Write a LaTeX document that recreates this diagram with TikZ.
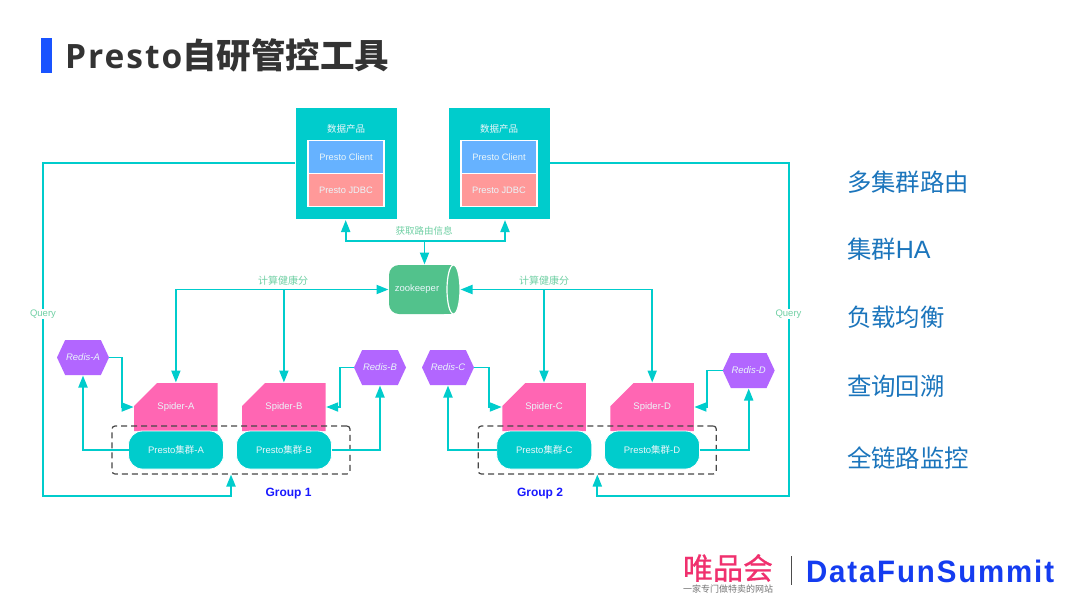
\documentclass[tikz,border=0pt]{standalone}
\usepackage{fontspec}
\setmainfont{Liberation Sans}
\newfontfamily\cjk{Noto Sans CJK SC}
\newfontfamily\cjkm[FakeBold=0.6]{Noto Sans CJK SC}
\newfontfamily\titlefont[LetterSpace=6]{Open Sans}
\newfontfamily\logofont[FakeStretch=0.95,LetterSpace=6]{Liberation Sans}
\usetikzlibrary{shapes.geometric,shapes.misc,shapes.symbols,arrows.meta}
\definecolor{teal}{HTML}{00CCCC}
\definecolor{pinkbox}{HTML}{FF66B3}
\definecolor{bluebox}{HTML}{66B2FF}
\definecolor{redbox}{HTML}{FF9999}
\definecolor{purplebox}{HTML}{B266FF}
\definecolor{zkgreen}{HTML}{52C28C}
\definecolor{lblgreen}{HTML}{70D0A4}
\definecolor{nodetxt}{HTML}{EAF6FA}
\definecolor{sidetxt}{HTML}{1B75BC}
\newcommand{\fsz}[1]{\fontsize{#1}{#1}\selectfont}
\tikzset{
  every node/.style={inner sep=0pt,outer sep=0pt,align=center},
  conn/.style={draw=teal,line width=1.8pt},
  tip/.style={-{Triangle[length=12pt,width=9pt]},shorten >=0.5pt},
  biTip/.style={{Triangle[length=12pt,width=9pt]}-{Triangle[length=12pt,width=9pt]},shorten >=0.5pt,shorten <=0.5pt},
  appbox/.style={fill=teal,draw=white,line width=0.6pt,minimum width=102pt,minimum height=112pt},
  apptitle/.style={text=nodetxt,font=\cjk\fsz{9.5}},
  clientbox/.style={fill=bluebox,draw=white,line width=1.2pt,minimum width=76pt,minimum height=33pt,text=nodetxt,font=\fsz{9.3}},
  jdbcbox/.style={fill=redbox,draw=white,line width=1.2pt,minimum width=76pt,minimum height=33pt,text=nodetxt,font=\fsz{9.3}},
  zkbody/.style={rectangle,rounded corners=10pt,fill=zkgreen,minimum width=65pt,minimum height=49pt,text=nodetxt,font=\fsz{9.5}},
  zkcapstyle/.style={ellipse,fill=zkgreen,draw=white,line width=1.2pt,minimum width=13pt,minimum height=49pt},
  hexbox/.style={signal,signal to=east and west,signal from=nowhere,signal pointer angle=130,fill=purplebox,minimum width=52pt,minimum height=35pt,text=nodetxt,font=\itshape\fsz{9.5}},
  spiderbox/.style={chamfered rectangle,chamfered rectangle corners=north west,chamfered rectangle xsep=20pt,chamfered rectangle ysep=20pt,fill=pinkbox,minimum width=83.5pt,minimum height=48pt,text=nodetxt,font=\fsz{9.5}},
  prestobox/.style={rectangle,rounded corners=14pt,fill=teal,draw=white,line width=0.8pt,minimum width=95pt,minimum height=38pt,text=nodetxt,font=\fsz{9.5}},
  groupbox/.style={rectangle,rounded corners=3pt,draw=black!72,line width=1.2pt,dash pattern=on 6pt off 4pt,minimum width=238pt,minimum height=48pt},
  greenlbl/.style={text=lblgreen,font=\cjk\fsz{10}},
  querylbl/.style={text=lblgreen,fill=white,inner sep=1pt,font=\fsz{9.5}},
  grouplbl/.style={text=blue!90!white,font=\bfseries\fsz{12}},
  sidelbl/.style={anchor=west,text=sidetxt,font=\cjk\fsz{24.4}},
}
\begin{document}
\begin{tikzpicture}[x=1pt,y=-1pt]
\useasboundingbox (0,0) rectangle (1080,608);
\fill[white] (0,0) rectangle (1080,608);
% title
\node[rectangle,fill=blue!75!cyan!90!white,minimum width=11pt,minimum height=35pt] (titlebar) at (46.5,55.5) {};
\node[anchor=west,text=black!80,font=\cjk\bfseries\fsz{34.5}] (title) at (65,55) {{\titlefont\bfseries\fsz{33.5}Presto}自研管控工具};
% product boxes
\node[appbox] (box1) at (346,163) {};
\node[appbox] (box2) at (499,163) {};
\node[apptitle] (t1) at (346,129) {数据产品};
\node[apptitle] (t2) at (499,129) {数据产品};
\node[clientbox] (c1) at (346,157) {Presto Client};
\node[jdbcbox] (j1) at (346,190) {Presto JDBC};
\node[clientbox] (c2) at (499,157) {Presto Client};
\node[jdbcbox] (j2) at (499,190) {Presto JDBC};
% zookeeper
\fill[zkgreen] (421.5,265) rectangle (454,314);
\node[zkbody] (zk) at (421.5,289.5) {\kern-9pt zookeeper};
\node[zkcapstyle] (zkcap) at (453.5,289.5) {};
% spiders
\node[spiderbox] (spA) at (175.9,407) {Spider-A};
\node[spiderbox] (spB) at (283.9,407) {Spider-B};
\node[spiderbox] (spC) at (544,407) {Spider-C};
\node[spiderbox] (spD) at (652.2,407) {Spider-D};
% presto clusters
\node[prestobox] (prA) at (176,450) {Presto{\cjk 集群}-A};
\node[prestobox] (prB) at (284,450) {Presto{\cjk 集群}-B};
\node[prestobox] (prC) at (544.3,450) {Presto{\cjk 集群}-C};
\node[prestobox] (prD) at (652,450) {Presto{\cjk 集群}-D};
% redis
\node[hexbox] (reA) at (83,357.5) {Redis-A};
\node[hexbox] (reB) at (380,367.5) {Redis-B};
\node[hexbox] (reC) at (448,367.5) {Redis-C};
\node[hexbox] (reD) at (748.7,370.5) {Redis-D};
% groups
\node[groupbox] (g1) at (231,450) {};
\node[groupbox] (g2) at (597.3,450) {};
\node[grouplbl] (gl1) at (288.5,494) {Group 1};
\node[grouplbl] (gl2) at (540,494) {Group 2};
% helper coordinates
\coordinate (box1in) at (345.7,219.5);
\coordinate (box2in) at (505,219.5);
\coordinate (zkbus) at (424.5,241);
\coordinate (leftout) at (42.7,496);
\coordinate (rightout) at (788.7,496);
\coordinate (bendA) at (121.7,407);
\coordinate (bendB) at (340,407);
\coordinate (bendC) at (489,407);
\coordinate (bendD) at (707.3,407);
% connectors
\draw[conn,biTip] (box1in) |- (zkbus) -| (box2in);
\draw[conn,tip] (zkbus) -- (zkbus |- zk.north);
\draw[conn,biTip] (spA.north) |- (zk.west);
\draw[conn,tip] (spB.north |- zk.west) -- (spB.north);
\draw[conn,biTip] (spD.north) |- (zkcap.east);
\draw[conn,tip] (spC.north |- zkcap.east) -- (spC.north);
\draw[conn,tip] (reA.east) -| (bendA) -- (spA.west);
\draw[conn,tip] (reB.west) -| (bendB) -- (spB.east);
\draw[conn,tip] (reC.east) -| (bendC) -- (spC.west);
\draw[conn,tip] (reD.west) -| (bendD) -- (spD.east);
\draw[conn,tip] (prA.west) -| (reA.south);
\draw[conn,tip] (prB.east) -| (reB.south);
\draw[conn,tip] (prC.west) -| (reC.south);
\draw[conn,tip] (prD.east) -| (reD.south);
\draw[conn,tip] (box1.west) -| (leftout) -| (g1.south);
\draw[conn,tip] (box2.east) -| (rightout) -| (g2.south);
% connector labels
\node[greenlbl,font=\cjk\fsz{9.5}] (lroute) at (424,231) {获取路由信息};
\node[greenlbl] (lh1) at (283,281) {计算健康分};
\node[greenlbl] (lh2) at (544,281) {计算健康分};
\node[querylbl] (q1) at (43,314) {Query};
\node[querylbl] (q2) at (788.5,314) {Query};
% side list
\node[sidelbl] (s1) at (847,182) {多集群路由};
\node[sidelbl] (s2) at (847,249) {集群{\rmfamily\fsz{25}HA}};
\node[sidelbl] (s3) at (847,317) {负载均衡};
\node[sidelbl] (s4) at (847,386) {查询回溯};
\node[sidelbl] (s5) at (847,458) {全链路监控};
% logo
\node[text={rgb,255:red,240;green,48;blue,110},font=\cjkm\fsz{30}] (vip) at (728,568) {唯品会};
\node[text=black!55,font=\cjk\fsz{9}] (vipsub) at (728,589.5) {一家专门做特卖的网站};
\node[rectangle,fill=black!70,minimum width=1pt,minimum height=29pt] (sep) at (791,570.5) {};
\node[anchor=west,text={rgb,255:red,20;green,60;blue,240},font=\logofont\bfseries\fsz{31}] (dfs) at (806,571) {DataFunSummit};
\end{tikzpicture}
\end{document}
